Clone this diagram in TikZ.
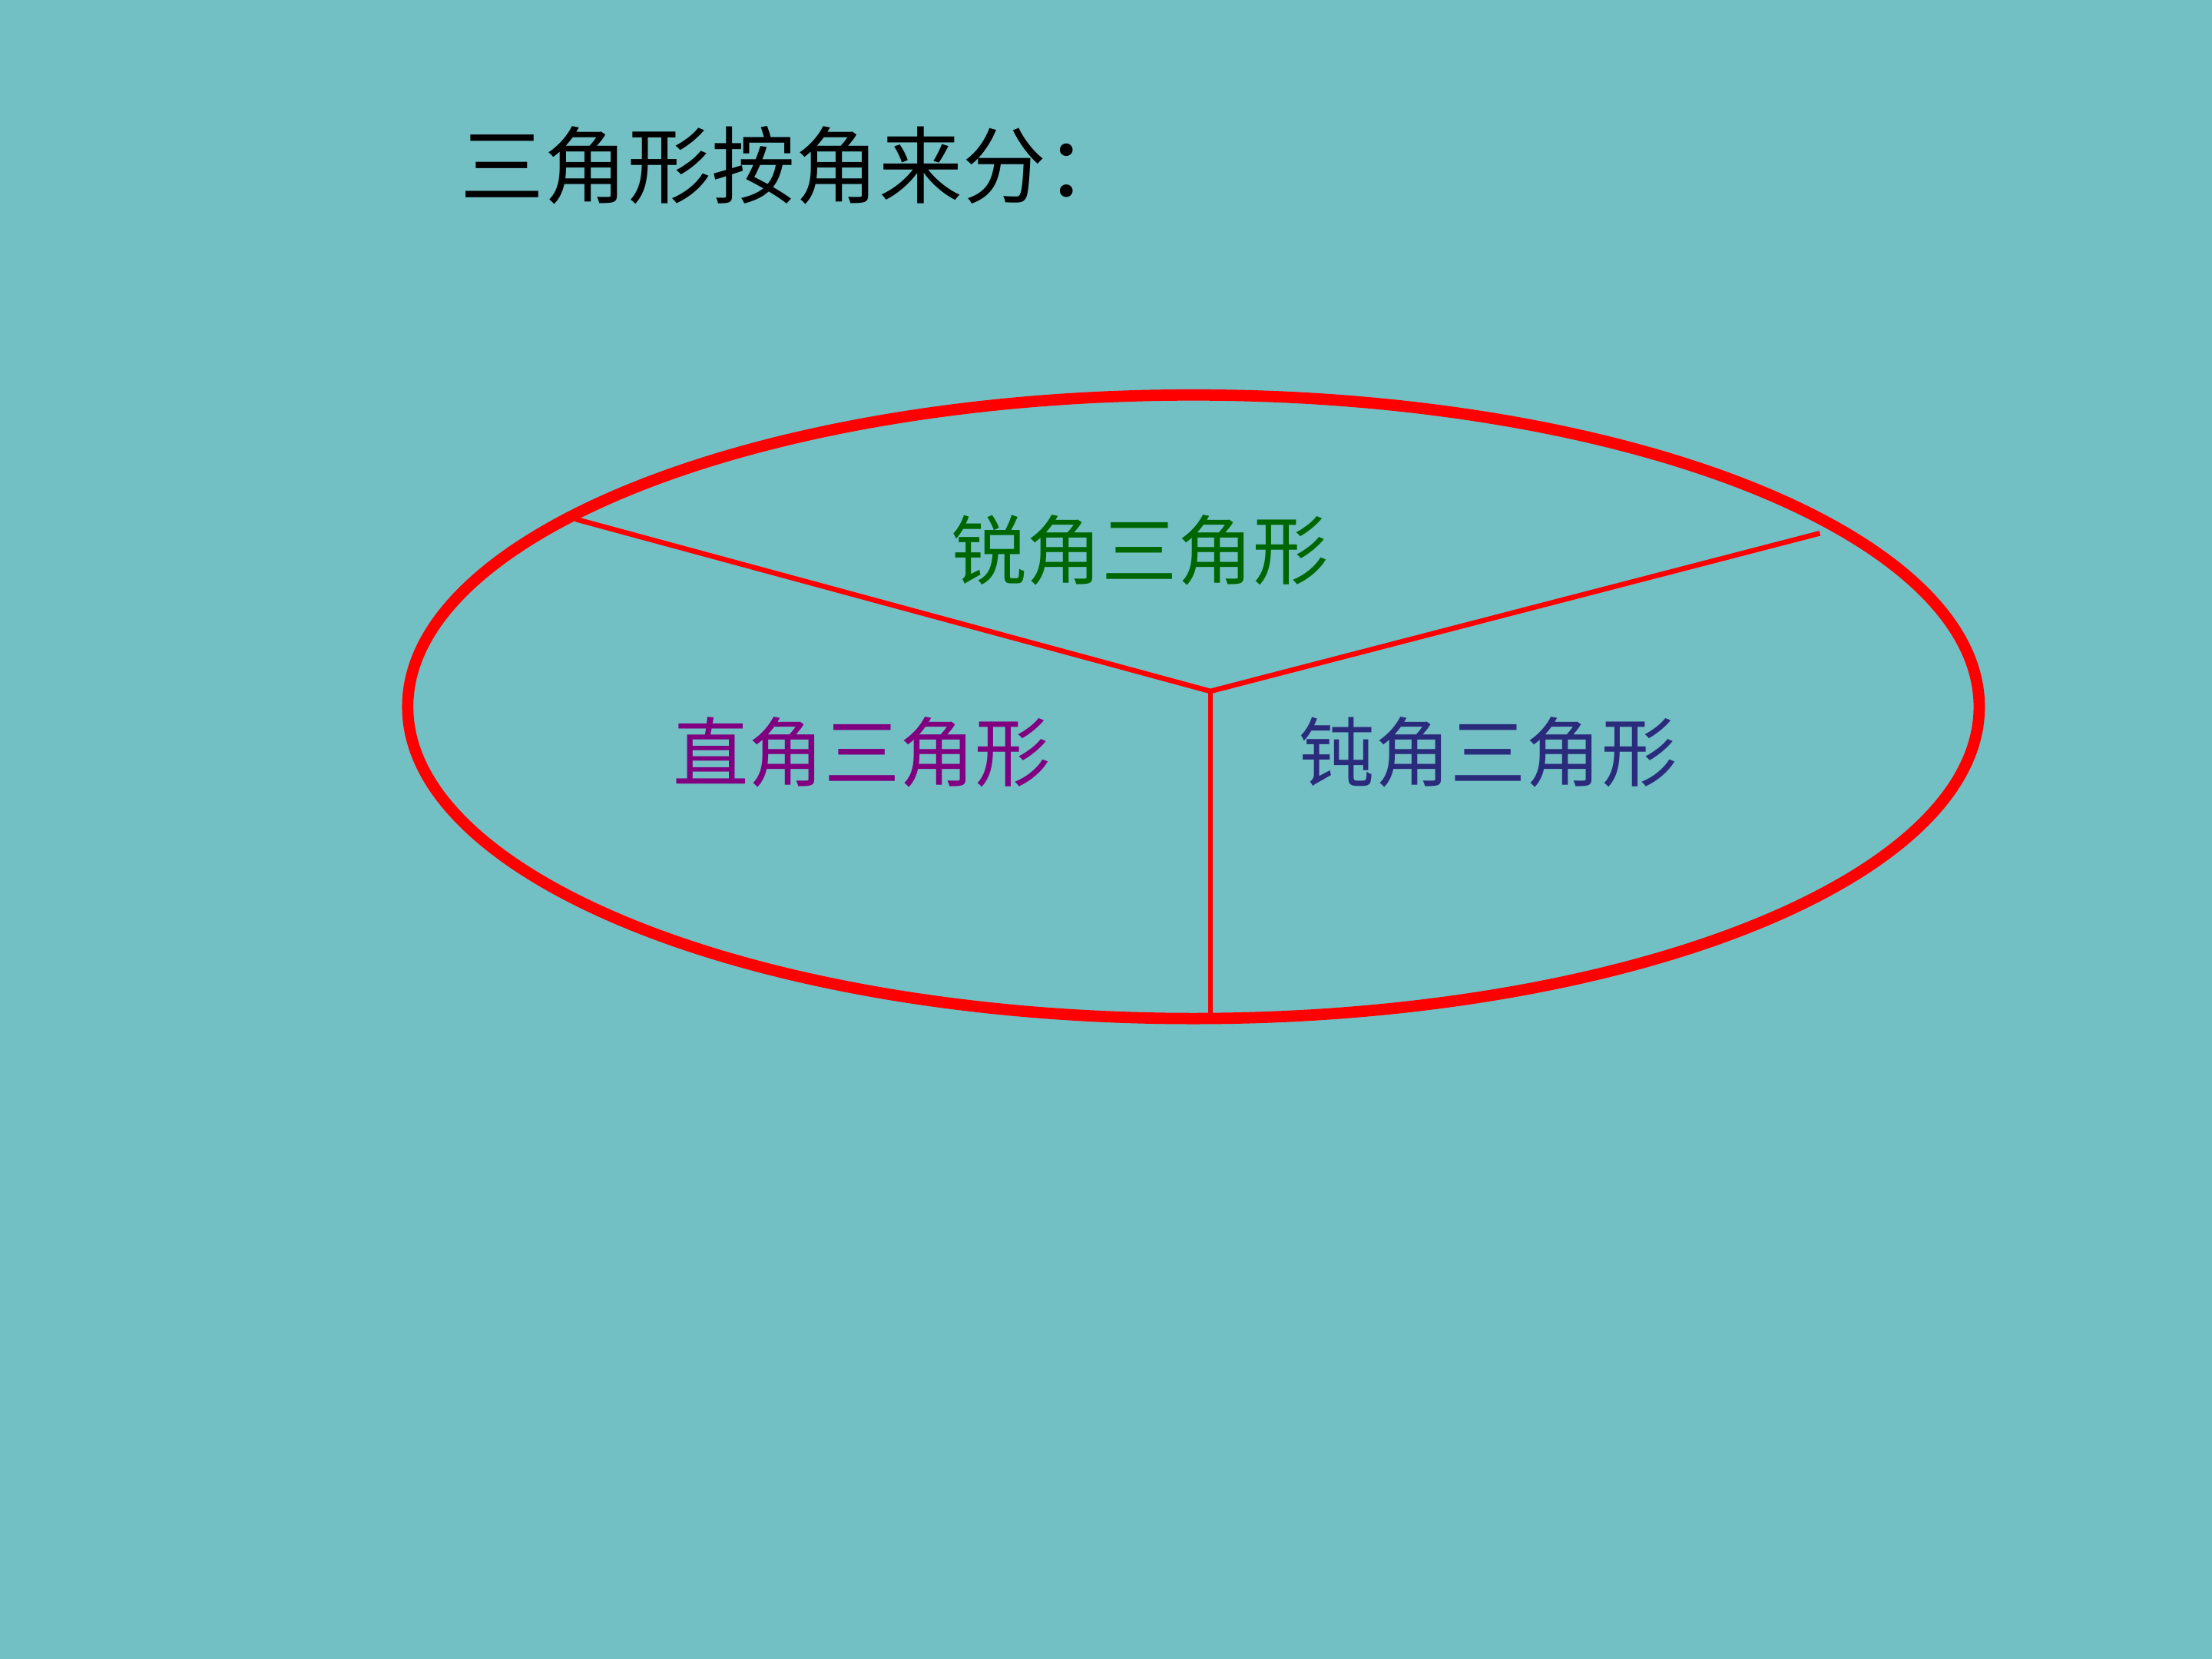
\documentclass[tikz,border=0pt]{standalone}
\usepackage{fontspec}
\newfontfamily\cjk{Noto Sans CJK SC}
\definecolor{bgteal}{HTML}{72BFC4}
\definecolor{acutegreen}{HTML}{006600}
\definecolor{rightpurple}{HTML}{800080}
\definecolor{obtuseblue}{HTML}{2B2B7C}
\tikzset{
  label/.style={inner sep=0pt, font=\cjk\fontsize{28}{30}\selectfont},
  spoke/.style={red, line width=1.9pt}
}
\begin{document}
\begin{tikzpicture}[x=0.018367cm, y=-0.018367cm]
    % background
    \fill[bgteal] (0,0) rectangle (1568,1176);
    \useasboundingbox (0,0) rectangle (1568,1176);
    
    % title
    \node[inner sep=0pt, anchor=west, font=\cjk\fontsize{31}{34}\selectfont] (title) at (326,117) {三角形按角来分：};
    
    % ellipse
    \draw[red, line width=4.2pt] (846,501) ellipse (557 and 221);
    
    % spokes
    \coordinate (hub) at (858,490);
    \coordinate (leftend) at (408,368);
    \coordinate (rightend) at (1290,378);
    \coordinate (bottomend) at (858,721);
    \draw[spoke] (leftend) -- (hub) -- (rightend);
    \draw[spoke] (hub) -- (bottomend);
    
    % labels
    \node[label, text=acutegreen] (acute) at (808,390) {锐角三角形};
    \node[label, text=rightpurple] (rightang) at (611,533) {直角三角形};
    \node[label, text=obtuseblue] (obtuse) at (1055,533) {钝角三角形};
  \end{tikzpicture}
\end{document}
